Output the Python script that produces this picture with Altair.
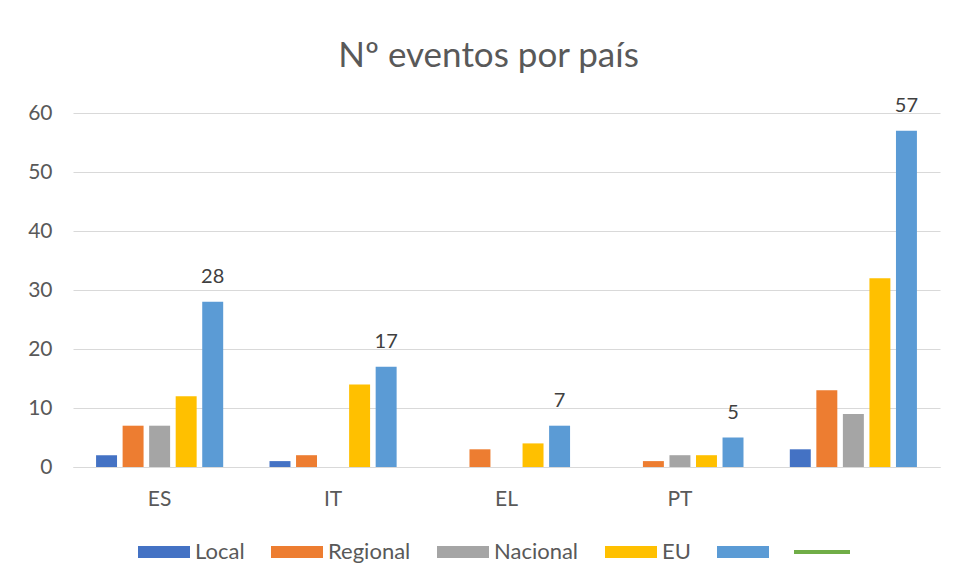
import altair as alt
import pandas as pd

paises = ["ES", "IT", "EL", "PT", " "]
series = ["Local", "Regional", "Nacional", "EU", "Total"]
local = [2, 1, 0, 0, 3]
regional = [7, 2, 3, 1, 13]
nacional = [7, 0, 0, 2, 9]
eu = [12, 14, 4, 2, 32]
total = [28, 17, 7, 5, 57]
colores = ["#4472C4", "#ED7D31", "#A5A5A5", "#FFC000", "#5B9BD5"]
verde = "#70AD47"

rows = []
for serie, vals in zip(series, [local, regional, nacional, eu, total]):
    for p, v in zip(paises, vals):
        rows.append({"pais": p, "serie": serie, "valor": v})
df = pd.DataFrame(rows)

FONT = "Lato"
GREY = "#595959"

x_enc = alt.X("pais:N", sort=paises, scale=alt.Scale(domain=paises, paddingInner=0.267, paddingOuter=0.133),
              axis=alt.Axis(title=None, labelAngle=0, ticks=False, domain=True, domainColor="#d9d9d9",
                            labelFont=FONT, labelFontSize=21, labelColor=GREY, labelPadding=21, labelBaseline="top"))
xo_enc = alt.XOffset("serie:N", sort=series, scale=alt.Scale(domain=series, paddingInner=0.21, paddingOuter=0))
y_enc = alt.Y("valor:Q", scale=alt.Scale(domain=[0, 60], nice=False),
              axis=alt.Axis(title=None, values=[0, 10, 20, 30, 40, 50, 60], ticks=False, domain=False,
                            gridColor="#d9d9d9", gridWidth=1, labelFont=FONT, labelFontSize=21,
                            labelColor=GREY, labelPadding=21))

bars = alt.Chart(df).mark_bar().encode(
    x=x_enc, xOffset=xo_enc, y=y_enc,
    color=alt.Color("serie:N", sort=series, scale=alt.Scale(domain=series, range=colores),
                    legend=alt.Legend(title=None, orient="none", direction="horizontal",
                                      legendX=65, legendY=413,
                                      symbolType="M-1,-0.23H1V0.23H-1Z", symbolSize=2704,
                                      symbolStrokeWidth=0, symbolOpacity=1,
                                      labelFont=FONT, labelFontSize=22, labelColor=GREY,
                                      labelOffset=5, columnPadding=26,
                                      labelExpr="datum.label == 'Total' ? '' : datum.label"))
)

labels = alt.Chart(df).transform_filter(alt.datum.serie == "Total").mark_text(
    baseline="alphabetic", dy=-19, font=FONT, fontSize=20, color="#404040"
).encode(x=x_enc, xOffset=xo_enc, y=y_enc, text="valor:Q")

line_df = pd.DataFrame({"pais": ["ES"], "valor": [None], "linea": ["Serie6"]})
line = alt.Chart(line_df).mark_line().encode(
    x=alt.X("pais:N", sort=paises), y=alt.Y("valor:Q"),
    stroke=alt.Stroke("linea:N", scale=alt.Scale(domain=["Serie6"], range=[verde]),
                      legend=alt.Legend(title=None, orient="none", direction="horizontal",
                                        legendX=719, legendY=409, symbolType="stroke",
                                        symbolSize=3136, symbolStrokeWidth=4,
                                        labelExpr="''", labelFontSize=19))
)

chart = alt.layer(bars, labels, line).properties(
    width=867, height=354,
    autosize=alt.AutoSizeParams(type="none"),
    padding={"left": 65, "top": 105, "right": 9, "bottom": 108},
    title=alt.Title("Nº eventos por país", font=FONT, fontSize=35, fontWeight="normal",
                    color=GREY, anchor="middle", offset=22, dx=-18),
).resolve_scale(color="independent").configure_view(stroke=None)

chart.save("out.html", embed_options={"renderer": "svg", "actions": False})
